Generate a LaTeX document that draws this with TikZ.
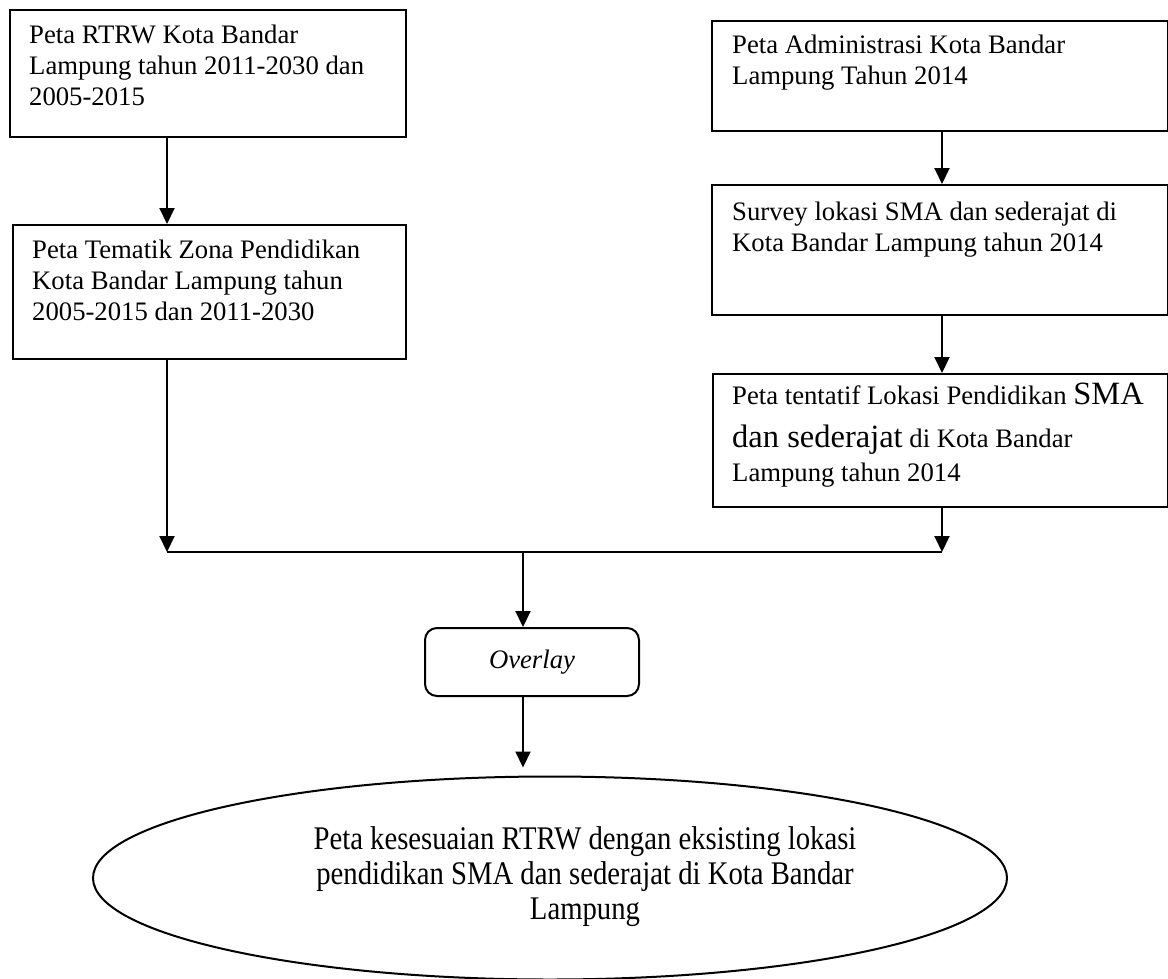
\documentclass[tikz,border=0pt]{standalone}
\usepackage{fontspec}
\setmainfont{Liberation Serif}
\newfontfamily\condfont[FakeStretch=0.87]{Liberation Serif}
\usetikzlibrary{shapes.geometric,arrows.meta}
\begin{document}
\begin{tikzpicture}[x=1pt,y=-1pt,
  box/.style={draw, line width=2.2pt, anchor=north west, inner sep=0pt},
  txt/.style={anchor=north west, align=left, inner sep=0pt, font=\fontsize{26.7}{31}\selectfont},
  arr/.style={-{Triangle[length=16pt,width=15pt]}, line width=2pt},
  conn/.style={line width=2pt}]
\useasboundingbox (0,0) rectangle (1168,978);
% boxes
\node[box, minimum width=396pt, minimum height=127pt] (b1) at (9,9) {};
\node[txt] (t1) at (29,25) {Peta RTRW Kota Bandar\\Lampung tahun 2011-2030 dan\\2005-2015};
\node[box, minimum width=393pt, minimum height=134pt] (b2) at (12,224) {};
\node[txt] (t2) at (32,240) {Peta Tematik Zona Pendidikan\\Kota Bandar Lampung tahun\\2005-2015 dan 2011-2030};
\node[box, minimum width=456pt, minimum height=110pt] (b3) at (711,20) {};
\node[txt] (t3) at (732,35) {Peta Administrasi Kota Bandar\\Lampung Tahun 2014};
\node[box, minimum width=456pt, minimum height=130pt] (b4) at (711,184) {};
\node[txt] (t4) at (732,202) {Survey lokasi SMA dan sederajat di\\Kota Bandar Lampung tahun 2014};
\node[box, minimum width=455pt, minimum height=133pt] (b5) at (712,373) {};
\node[txt] (t5) at (732,383) {Peta tentatif Lokasi Pendidikan {\fontsize{32.5}{36}\selectfont SMA}\\[12pt]{\fontsize{32.5}{36}\selectfont dan sederajat} di Kota Bandar\\[3pt]Lampung tahun 2014};
% overlay
\node[draw, line width=2pt, rounded corners=12pt, anchor=north west, inner sep=0pt,
      minimum width=214pt, minimum height=68pt, font=\fontsize{26.7}{31}\selectfont\itshape] (ov) at (424,627) {Overlay};
% ellipse
\node[draw, ellipse, line width=2pt, inner sep=0pt, minimum width=914pt, minimum height=203pt] (el) at (550,878) {};
\node[align=center, inner sep=0pt, font=\condfont\fontsize{33}{35}\selectfont] (et) at (585,877)
      {Peta kesesuaian RTRW dengan eksisting lokasi\\pendidikan SMA dan sederajat di Kota Bandar\\Lampung};
% junctions
\coordinate (jl) at (167,552);
\coordinate (jr) at (942,552);
\coordinate (jm) at (523,552);
% connectors
\draw[arr] (b1.south -| jl) -- (b2.north -| jl);
\draw[arr] (b3.south -| jr) -- (b4.north -| jr);
\draw[arr] (b4.south -| jr) -- (b5.north -| jr);
\draw[arr] (b2.south -| jl) -- (jl);
\draw[arr] (b5.south -| jr) -- (jr);
\draw[conn] (jl) -- (jr);
\draw[arr] (jm) -- (ov.north -| jm);
\draw[arr, shorten >=8pt] (ov.south -| jm) -- (el.north -| jm);
\end{tikzpicture}
\end{document}
